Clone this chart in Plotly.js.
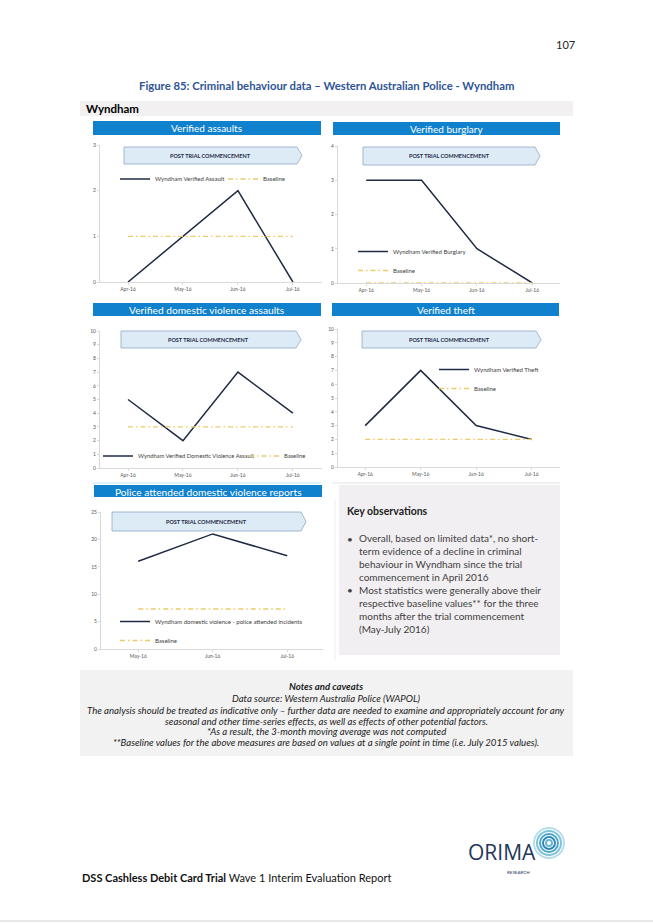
<!DOCTYPE html>
<html>
<head>
<meta charset="utf-8">
<script src="https://cdn.plot.ly/plotly-3.0.1.min.js"></script>
<style>
html,body{margin:0;padding:0;background:#fff;}
#chart{width:653px;height:923px;}
</style>
</head>
<body>
<div id="chart"></div>
<script>
// ---------- data ----------
const months4 = ['Apr-16', 'May-16', 'Jun-16', 'Jul-16'];
const months3 = ['May-16', 'Jun-16', 'Jul-16'];

const assaults = [0, 1, 2, 0];
const assaultsBaseline = [1, 1, 1, 1];

const burglary = [3, 3, 1, 0];
const burglaryBaseline = [0, 0, 0, 0];

const dvAssaults = [5, 2, 7, 4];
const dvAssaultsBaseline = [3, 3, 3, 3];

const theft = [3, 7, 3, 2];
const theftBaseline = [2, 2, 2, 2];

const policeDV = [16, 21, 17];
const policeDVBaseline = [7.3, 7.3, 7.3];

const chartTitles = ['Verified assaults', 'Verified burglary', 'Verified domestic violence assaults',
  'Verified theft', 'Police attended domestic violence reports'];
const seriesNames = ['Wyndham Verified Assault', 'Wyndham Verified Burglary',
  'Wyndham Verified Domestic Violence Assault', 'Wyndham Verified Theft',
  'Wyndham domestic violence - police attended incidents'];
const baselineName = 'Baseline';

// ---------- helpers ----------
const W = 653, H = 923;
const px = v => v / W;
const py = v => 1 - v / H;
const FONT = "Lato, 'Open Sans', sans-serif";
const LINE_COL = '#1F2A44';
const BASE_COL = '#EDCB6A';
const BAR_COL = '#1082CD';

const traces = [];
function addChart(n, cats, vals, base, name) {
  const sfx = n === 1 ? '' : String(n);
  const lg = n === 1 ? 'legend' : 'legend' + n;
  traces.push({
    x: cats, y: vals, type: 'scatter', mode: 'lines', name: name,
    line: {color: LINE_COL, width: 1.5}, xaxis: 'x' + sfx, yaxis: 'y' + sfx, legend: lg,
    hoverinfo: 'skip'
  });
  traces.push({
    x: cats, y: base, type: 'scatter', mode: 'lines', name: baselineName,
    line: {color: BASE_COL, width: 1.3, dash: '5px,3px,1.5px,3px'}, xaxis: 'x' + sfx, yaxis: 'y' + sfx, legend: lg,
    hoverinfo: 'skip'
  });
}
addChart(1, months4, assaults, assaultsBaseline, seriesNames[0]);
addChart(2, months4, burglary, burglaryBaseline, seriesNames[1]);
addChart(3, months4, dvAssaults, dvAssaultsBaseline, seriesNames[2]);
addChart(4, months4, theft, theftBaseline, seriesNames[3]);
addChart(5, months3, policeDV, policeDVBaseline, seriesNames[4]);

function xax(n, l, r, cats, range) {
  return {
    anchor: n === 1 ? 'y' : 'y' + n,
    domain: [px(l), px(r)], type: 'category', categoryorder: 'array', categoryarray: cats,
    range: range, showline: true, linecolor: '#D9D9D9', linewidth: 1, ticks: 'outside', ticklen: 2,
    tickcolor: '#D9D9D9', tickfont: {size: 5, color: '#595959', family: FONT},
    showgrid: false, zeroline: false, fixedrange: true
  };
}
function yax(n, top, bottom, max, dtick) {
  return {
    anchor: n === 1 ? 'x' : 'x' + n,
    domain: [py(bottom), py(top)], range: [0, max], dtick: dtick, showline: true,
    linecolor: '#D9D9D9', linewidth: 1, ticks: 'outside', ticklen: 2, tickcolor: '#D9D9D9',
    tickfont: {size: 5, color: '#595959', family: FONT}, showgrid: false, zeroline: false, fixedrange: true
  };
}

const shapes = [];
const annotations = [];
function rect(x0, y0, x1, y1, fill, line) {
  shapes.push({type: 'rect', xref: 'paper', yref: 'paper', x0: px(x0), x1: px(x1), y0: py(y1), y1: py(y0),
    fillcolor: fill, line: line || {width: 0}, layer: 'below'});
}
function hline(x0, x1, y, col) {
  shapes.push({type: 'line', xref: 'paper', yref: 'paper', x0: px(x0), x1: px(x1), y0: py(y), y1: py(y),
    line: {color: col, width: 1}});
}
function vline(x, y0, y1, col) {
  shapes.push({type: 'line', xref: 'paper', yref: 'paper', x0: px(x), x1: px(x), y0: py(y0), y1: py(y1),
    line: {color: col, width: 1}});
}
function text(t, x, y, opts) {
  opts = opts || {};
  annotations.push(Object.assign({
    text: t, xref: 'paper', yref: 'paper', x: px(x), y: py(y), showarrow: false,
    xanchor: 'left', yanchor: 'middle',
    font: {family: FONT, size: 10, color: '#000'}
  }, opts));
}
function titleBar(t, x0, x1, y0, y1, size) {
  rect(x0, y0, x1, y1, BAR_COL);
  text(t, (x0 + x1) / 2, (y0 + y1) / 2 + 0.5, {xanchor: 'center', font: {family: FONT, size: size, color: '#fff'}});
}
function arrow(x0, tip, y0, y1) {
  const body = tip - 5, ym = (y0 + y1) / 2;
  const path = 'M' + px(x0) + ',' + py(y0) + ' L' + px(body) + ',' + py(y0) + ' L' + px(tip) + ',' + py(ym) +
    ' L' + px(body) + ',' + py(y1) + ' L' + px(x0) + ',' + py(y1) + ' Z';
  shapes.push({type: 'path', xref: 'paper', yref: 'paper', path: path, fillcolor: '#DDEBF7',
    line: {color: '#8FA8C2', width: 0.8}, layer: 'below'});
  text('<b>POST TRIAL COMMENCEMENT</b>', (x0 + body) / 2, ym, {xanchor: 'center',
    font: {family: FONT, size: 5.5, color: '#1F2A44'}});
}

// page header
text('107', 565, 45, {xanchor: 'center', font: {family: FONT, size: 11, color: '#222'}});
text('<b>Figure 85: Criminal behaviour data – Western Australian Police - Wyndham</b>', 326, 86,
  {xanchor: 'center', font: {family: FONT, size: 11.3, color: '#2F5597'}});
rect(80, 101, 573, 116, '#F3F0F2');
text('<b>Wyndham</b>', 84, 108.5, {font: {family: FONT, size: 11.5, color: '#000'}});

// chart panels
titleBar(chartTitles[0], 93, 321, 121, 135, 10);
titleBar(chartTitles[1], 333, 560, 122, 135, 10);
titleBar(chartTitles[2], 93, 321, 303, 316, 10.2);
titleBar(chartTitles[3], 332, 559, 303, 316, 10);
titleBar(chartTitles[4], 94, 322, 485, 497, 10.2);

arrow(124, 302, 147, 164);
arrow(363, 540, 147, 165);
arrow(121, 301, 331, 348);
arrow(362, 541, 331, 348);
arrow(112, 306, 512, 531);

// faint panel frames
hline(93, 321, 483, '#BFE3F7');
hline(332, 560, 483, '#E6E6E6');
vline(335, 500, 660, '#EDEDED');

// key observations box
rect(339, 485, 560, 655, '#F2EFF2');
text('<b>Key observations</b>', 345, 511, {font: {family: FONT, size: 10.5, color: '#222'}});
text('•', 345, 539, {font: {family: FONT, size: 10, color: '#404040'}});
text('•', 345, 590, {font: {family: FONT, size: 10, color: '#404040'}});
text('Overall, based on limited data*, no short-<br>term evidence of a decline in criminal<br>' +
  'behaviour in Wyndham since the trial<br>commencement in April 2016<br>' +
  'Most statistics were generally above their<br>respective baseline values** for the three<br>' +
  'months after the trial commencement<br>(May-July 2016)', 357, 583.5,
  {align: 'left', font: {family: FONT, size: 10, color: '#404040'}});

// notes box
rect(80, 670, 573, 756, '#F2F2F2');
const noteLines = [
  '<b><i>Notes and caveats</i></b>',
  '<i>Data source: Western Australia Police (WAPOL)</i>',
  '<i>The analysis should be treated as indicative only – further data are needed to examine and appropriately account for any</i>',
  '<i>seasonal and other time-series effects, as well as effects of other potential factors.</i>',
  '<i>*As a result, the 3-month moving average was not computed</i>',
  '<i>**Baseline values for the above measures are based on values at a single point in time (i.e. July 2015 values).</i>'
];
const noteY = [686, 698, 710, 721, 731.5, 742];
noteLines.forEach((t, i) => text(t, 326, noteY[i], {xanchor: 'center', font: {family: FONT, size: 9.6, color: '#222'}}));

// footer
text('<b>DSS Cashless Debit Card Trial</b> Wave 1 Interim Evaluation Report', 80, 877,
  {font: {family: FONT, size: 11, color: '#111'}});
text('ORIMA', 502, 852, {xanchor: 'center', font: {family: "'Open Sans', sans-serif", size: 21, color: '#22375A'}});
text('RESEARCH', 518, 872.5, {xanchor: 'center', font: {family: FONT, size: 4.5, color: '#22375A'}});
const ringCols = ['#B7DDEA', '#7FC3DA', '#4BA5C8', '#2F88B6', '#6FB6D3'];
[15, 12, 9, 6, 3].forEach((r, i) => {
  shapes.push({type: 'circle', xref: 'paper', yref: 'paper', x0: px(549 - r), x1: px(549 + r),
    y0: py(843 + r), y1: py(843 - r), line: {color: ringCols[i], width: 2}, fillcolor: 'rgba(0,0,0,0)'});
});
hline(0, 653, 921, '#CFCFCF');

const legendBase = {bgcolor: 'rgba(0,0,0,0)', font: {family: FONT, size: 6, color: '#404040'},
  xanchor: 'left', yanchor: 'middle', itemclick: false, itemdoubleclick: false};

const layout = {
  width: W, height: H, margin: {l: 0, r: 0, t: 0, b: 0},
  paper_bgcolor: '#fff', plot_bgcolor: 'rgba(0,0,0,0)', showlegend: true,
  font: {family: FONT},
  xaxis: xax(1, 100, 322, months4, [-0.51, 3.53]),
  yaxis: yax(1, 145, 282, 3, 1),
  xaxis2: xax(2, 338, 560, months4, [-0.51, 3.5]),
  yaxis2: yax(2, 146, 283, 4, 1),
  xaxis3: xax(3, 100, 322, months4, [-0.51, 3.53]),
  yaxis3: yax(3, 331, 468, 10, 1),
  xaxis4: xax(4, 338, 560, months4, [-0.49, 3.51]),
  yaxis4: yax(4, 329, 467, 10, 1),
  xaxis5: xax(5, 101, 323, months3, [-0.5, 2.48]),
  yaxis5: yax(5, 512, 649, 25, 5),
  legend: Object.assign({}, legendBase, {orientation: 'h', x: px(115), y: py(179), entrywidth: 63, entrywidthmode: 'pixels'}),
  legend2: Object.assign({}, legendBase, {orientation: 'v', x: px(353), y: py(261)}),
  legend3: Object.assign({}, legendBase, {orientation: 'h', x: px(98), y: py(456), entrywidth: 101, entrywidthmode: 'pixels',
    font: {family: FONT, size: 5.8, color: '#404040'}}),
  legend4: Object.assign({}, legendBase, {orientation: 'v', x: px(434), y: py(379)}),
  legend5: Object.assign({}, legendBase, {orientation: 'v', x: px(115), y: py(631)}),
  shapes: shapes,
  annotations: annotations
};

Plotly.newPlot('chart', traces, layout, {displayModeBar: false, staticPlot: true});
</script>
</body>
</html>
